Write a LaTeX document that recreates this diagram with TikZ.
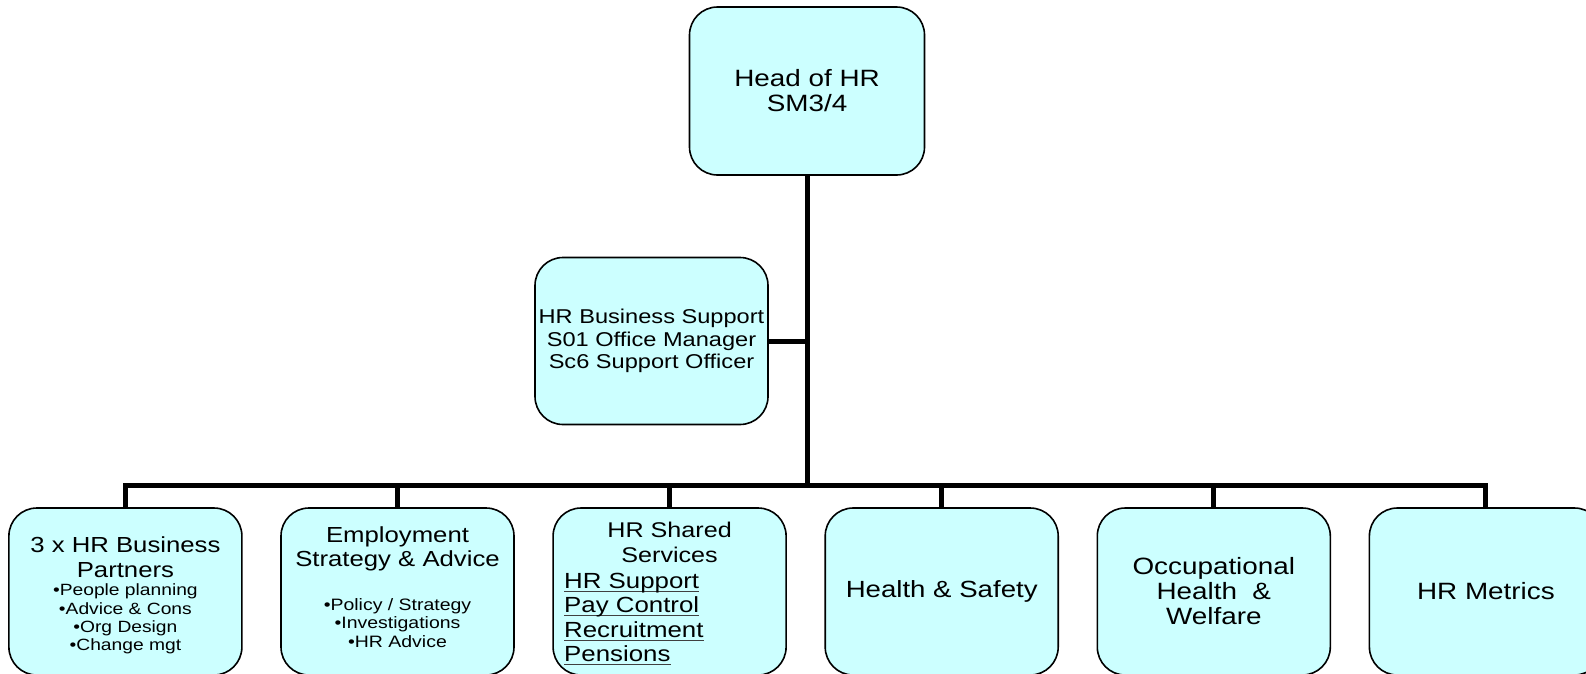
\documentclass[tikz,border=0pt]{standalone}
\usepackage{fontspec}
\setmainfont{Liberation Sans}[FakeStretch=1.18]
\definecolor{boxfill}{RGB}{204,255,255}
\newcommand{\fsz}[2]{\fontsize{#1}{#2}\selectfont}
% underlined entry with a thin rule that adds no depth to the line
\newcommand{\ulitem}[1]{\setbox0\hbox{#1}\rlap{\smash{\color{black!75}\rule[-3.5pt]{\wd0}{1pt}}}\box0}
\begin{document}
\begin{tikzpicture}[x=1pt,y=-1pt,
  orgbox/.style={draw=black, line width=1.6pt, fill=boxfill, rounded corners=28pt,
    minimum width=233pt, minimum height=167pt, inner sep=0pt, align=center},
  link/.style={line width=5pt},
  txt/.style={inner sep=0pt, align=center}]
\useasboundingbox (0,0) rectangle (1586,673);

% top of the chart
\node[orgbox, minimum width=235pt, minimum height=168pt, font=\fsz{23.6}{25}] (head) at (807,91) {Head of HR\\SM3/4};
\node[orgbox, font=\fsz{20}{22.3}] (support) at (651.5,341) {HR Business Support\\S01 Office Manager\\Sc6 Support Officer};

% bottom row
\node[orgbox] (bp) at (125.4,591.5) {};
\node[orgbox] (esa) at (397.5,591.5) {};
\node[orgbox] (hrss) at (669.6,591.5) {};
\node[orgbox, font=\fsz{23.4}{25}] (hs) at (941.7,591.5) {Health \& Safety};
\node[orgbox, font=\fsz{23.6}{25}] (ohw) at (1213.8,591.5) {Occupational\\Health \ \&\\Welfare};
\node[orgbox, font=\fsz{23.6}{25}] (hrm) at (1485.9,591.5) {HR Metrics};

% texts of the first three boxes
\node[txt, font=\fsz{21.8}{24.5}] (bp-title) at (125.4,557) {3 x HR Business\\Partners};
\node[txt, font=\fsz{16.3}{18.2}] (bp-list) at (125.4,619) {•People planning\\•Advice \& Cons\\•Org Design\\•Change mgt};
\node[txt, font=\fsz{21.8}{24.3}] (esa-title) at (397.5,549) {Employment\\Strategy \& Advice};
\node[txt, font=\fsz{16.5}{18.2}] (esa-list) at (397.5,623) {•Policy / Strategy\\•Investigations\\•HR Advice};
\node[txt, font=\fsz{21.3}{24.5}] (hrss-title) at (669.6,542.6) {HR Shared\\Services};
\node[txt, align=left, anchor=west, font=\fsz{21.9}{24.5}] (hrss-list) at (564,617.5)
  {\ulitem{HR Support}\\\ulitem{Pay Control}\\\ulitem{Recruitment}\\\ulitem{Pensions}};

% connectors
\coordinate (bar) at (807,485.5);
\draw[link] (head.south) -- (bar);
\draw[link] (support.east) -- (support.east -| bar);
\draw[link] (bp.north) |- (bar) -| (hrm.north);
\foreach \n in {esa,hrss,hs,ohw}
  \draw[link] (\n.north) -- (\n.north |- bar);
\end{tikzpicture}
\end{document}
